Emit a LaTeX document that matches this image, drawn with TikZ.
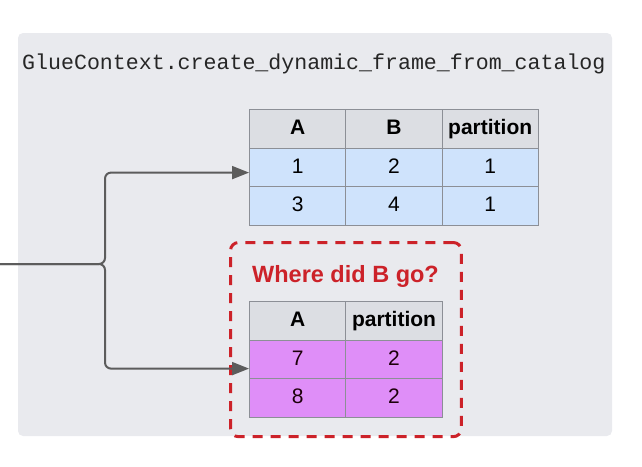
\documentclass[tikz,border=0pt]{standalone}
\usepackage{fontspec}
\setmainfont{Liberation Sans}
\setmonofont{Liberation Mono}
\usepackage{xcolor}
\usetikzlibrary{
    positioning,
    fit,
    arrows.meta,
    matrix,
    backgrounds
}
\definecolor{panelgray}{HTML}{E9EAEE}
\definecolor{headgray}{HTML}{DCDEE3}
\definecolor{rowblue}{HTML}{CFE3FC}
\definecolor{rowpurple}{HTML}{DF8EF8}
\definecolor{lossred}{HTML}{CC2229}
\definecolor{flowgray}{HTML}{5C5C5C}
\definecolor{gridgray}{HTML}{8C8F96}
\tikzset{
    datatable/.style={
        matrix of nodes, inner sep=0pt,
        column sep=-1pt, row sep=-1pt,
        nodes={draw=gridgray, line width=1pt, inner sep=0pt, anchor=center,
            minimum width=96.2pt, minimum height=38.6pt,
            text height=15pt, text depth=4pt,
            font=\fontsize{21}{25}\selectfont},
        row 1/.style={nodes={fill=headgray, font=\fontsize{21}{25}\selectfont\bfseries}}
    },
    bluerows/.style={
        row 2/.style={nodes={fill=rowblue}},
        row 3/.style={nodes={fill=rowblue}}
    },
    purplerows/.style={
        row 2/.style={nodes={fill=rowpurple, text=black!85!purple}},
        row 3/.style={nodes={fill=rowpurple, text=black!85!purple}}
    },
    flow/.style={
        draw=flowgray, line width=2pt, rounded corners=6pt,
        -{Triangle[length=17pt, width=13pt]}
    },
    lostbox/.style={
        draw=lossred, line width=3pt, dash pattern=on 10pt off 8pt,
        rounded corners=8pt, inner sep=18.5pt
    },
    calltitle/.style={
        font=\ttfamily\fontsize{21.6}{26}\selectfont, text=black!85, inner sep=0pt
    }
}

\begin{document}
\begin{tikzpicture}[x=1pt, y=-1pt]
	\useasboundingbox (0,0) rectangle (642,466);
	
	% PANEL
	\fill[panelgray, rounded corners=5pt] (18,33) rectangle (612,436);
	\node[calltitle, anchor=base west] (call) at (22,69) {GlueContext.create\_dynamic\_frame\_from\_catalog};
	
	% TABLES
	\matrix (full) [datatable, bluerows, anchor=north west] at (249,109) {
		A & B & partition \\
		1 & 2 & 1 \\
		3 & 4 & 1 \\
	};
	\matrix (part) [datatable, purplerows, anchor=north west] at (249,301) {
		A & partition \\
		7 & 2 \\
		8 & 2 \\
	};
	
	% QUESTION
	\node[text=lossred, font=\fontsize{23.5}{28}\selectfont\bfseries, inner sep=0pt, anchor=base] (lost) at (345.5,282) {Where did B go?};
	\coordinate (lostcap) at ([yshift=40pt]part.north);
	\node[lostbox, fit=(part)(lostcap)] (lostframe) {};
	
	% ARROWS
	\coordinate (src) at (0,264);
	\coordinate (fork) at (105,264);
	\draw[flow] (src) -- (fork) |- ([yshift=-5pt]full.west);
	\draw[flow] (src) -- (fork) |- ([yshift=-9pt]part.west);
	
\end{tikzpicture}
\end{document}
